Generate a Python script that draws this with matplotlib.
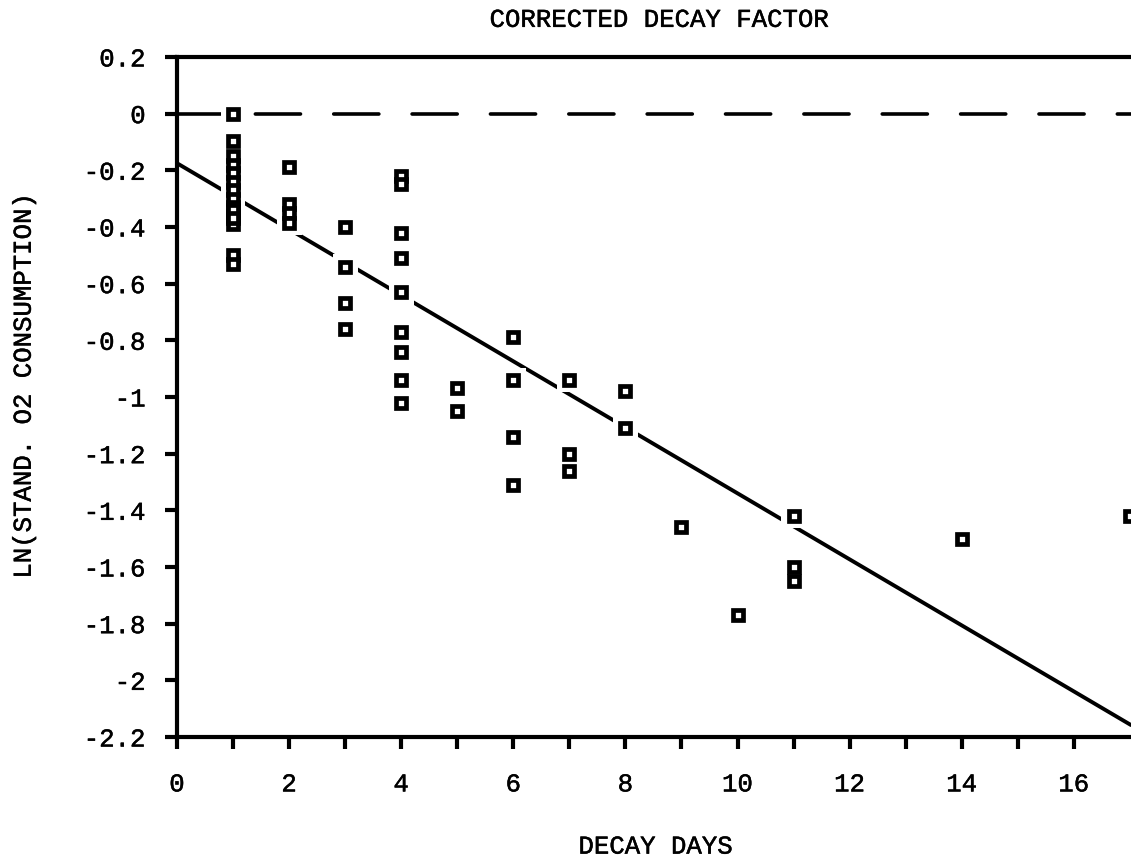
import matplotlib.pyplot as plt
import matplotlib.patheffects as pe
import numpy as np

plt.rcParams['font.family'] = ['Liberation Mono', 'DejaVu Sans Mono']

# decay days and ln of standardised O2 consumption
days = [1] * 15 + [2] * 4 + [3] * 4 + [4] * 9 + [5] * 2 + [6] * 4 + [7] * 3 + [8] * 2 + [9, 10] + [11] * 3 + [14, 17]
ln_o2 = [0.0, -0.095, -0.15, -0.18, -0.21, -0.24, -0.27, -0.30, -0.33, -0.36, -0.39, -0.50, -0.53, -0.34, -0.37,
         -0.19, -0.32, -0.35, -0.385,
         -0.40, -0.54, -0.67, -0.76,
         -0.22, -0.25, -0.42, -0.51, -0.63, -0.77, -0.84, -0.94, -1.02,
         -0.97, -1.05,
         -0.79, -0.94, -1.14, -1.31,
         -0.94, -1.20, -1.26,
         -0.98, -1.11,
         -1.46, -1.77,
         -1.42, -1.60, -1.65,
         -1.50, -1.42]

# fitted decay line
intercept = -0.175
slope = -0.1165

x_ticks = list(range(0, 17))
x_labels = [str(v) if v % 2 == 0 else '' for v in x_ticks]
y_ticks = [0.2, 0, -0.2, -0.4, -0.6, -0.8, -1, -1.2, -1.4, -1.6, -1.8, -2, -2.2]
y_labels = ['0.2', '0', '-0.2', '-0.4', '-0.6', '-0.8', '-1', '-1.2', '-1.4', '-1.6', '-1.8', '-2', '-2.2']

# slightly heavier than the regular face
ink = [pe.withStroke(linewidth=0.35, foreground='black')]

fig = plt.figure(figsize=(11.31, 8.63), dpi=100)
ax = fig.add_axes([0.1565, 0.146, 0.8435, 0.788])

xmin, xmax = 0, 17.02
ax.set_xlim(xmin, xmax)
ax.set_ylim(-2.2, 0.2)

# reference line at zero
ax.plot([xmin, xmax], [0, 0], color='black', lw=2.6, dashes=(12.5, 9.2), dash_capstyle='round', zorder=2)

# regression line
xs = np.array([xmin, xmax])
ax.plot(xs, intercept + slope * xs, color='black', lw=2.8, solid_capstyle='round', zorder=2)

# white halo so the lines break around each point
ax.scatter(days, ln_o2, marker='s', s=320, color='white', edgecolors='none', zorder=3)
ax.plot(days, ln_o2, linestyle='none', marker='s', ms=6.5, mfc='white', mec='black', mew=3.4, zorder=4)

for side in ['top', 'left', 'bottom']:
    ax.spines[side].set_linewidth(3)
ax.spines['right'].set_visible(False)

ax.set_xticks(x_ticks)
ax.set_xticklabels(x_labels)
ax.set_yticks(y_ticks)
ax.set_yticklabels(y_labels)
ax.tick_params(axis='both', direction='out', length=8.5, width=3, labelsize=18.5)
ax.tick_params(axis='x', pad=17)
ax.tick_params(axis='y', pad=14)
for lab in ax.get_xticklabels() + ax.get_yticklabels():
    lab.set_path_effects(ink)

fig.text(0.5836, 0.977, 'CORRECTED DECAY FACTOR', ha='center', va='center', fontsize=18.5, path_effects=ink)
fig.text(0.58, 0.019, 'DECAY DAYS', ha='center', va='center', fontsize=18.5, path_effects=ink)
fig.text(0.021, 0.554, 'LN(STAND. O2 CONSUMPTION)', ha='center', va='center', rotation=90, fontsize=18.5,
         path_effects=ink)

fig.savefig('out.png', dpi=100)
